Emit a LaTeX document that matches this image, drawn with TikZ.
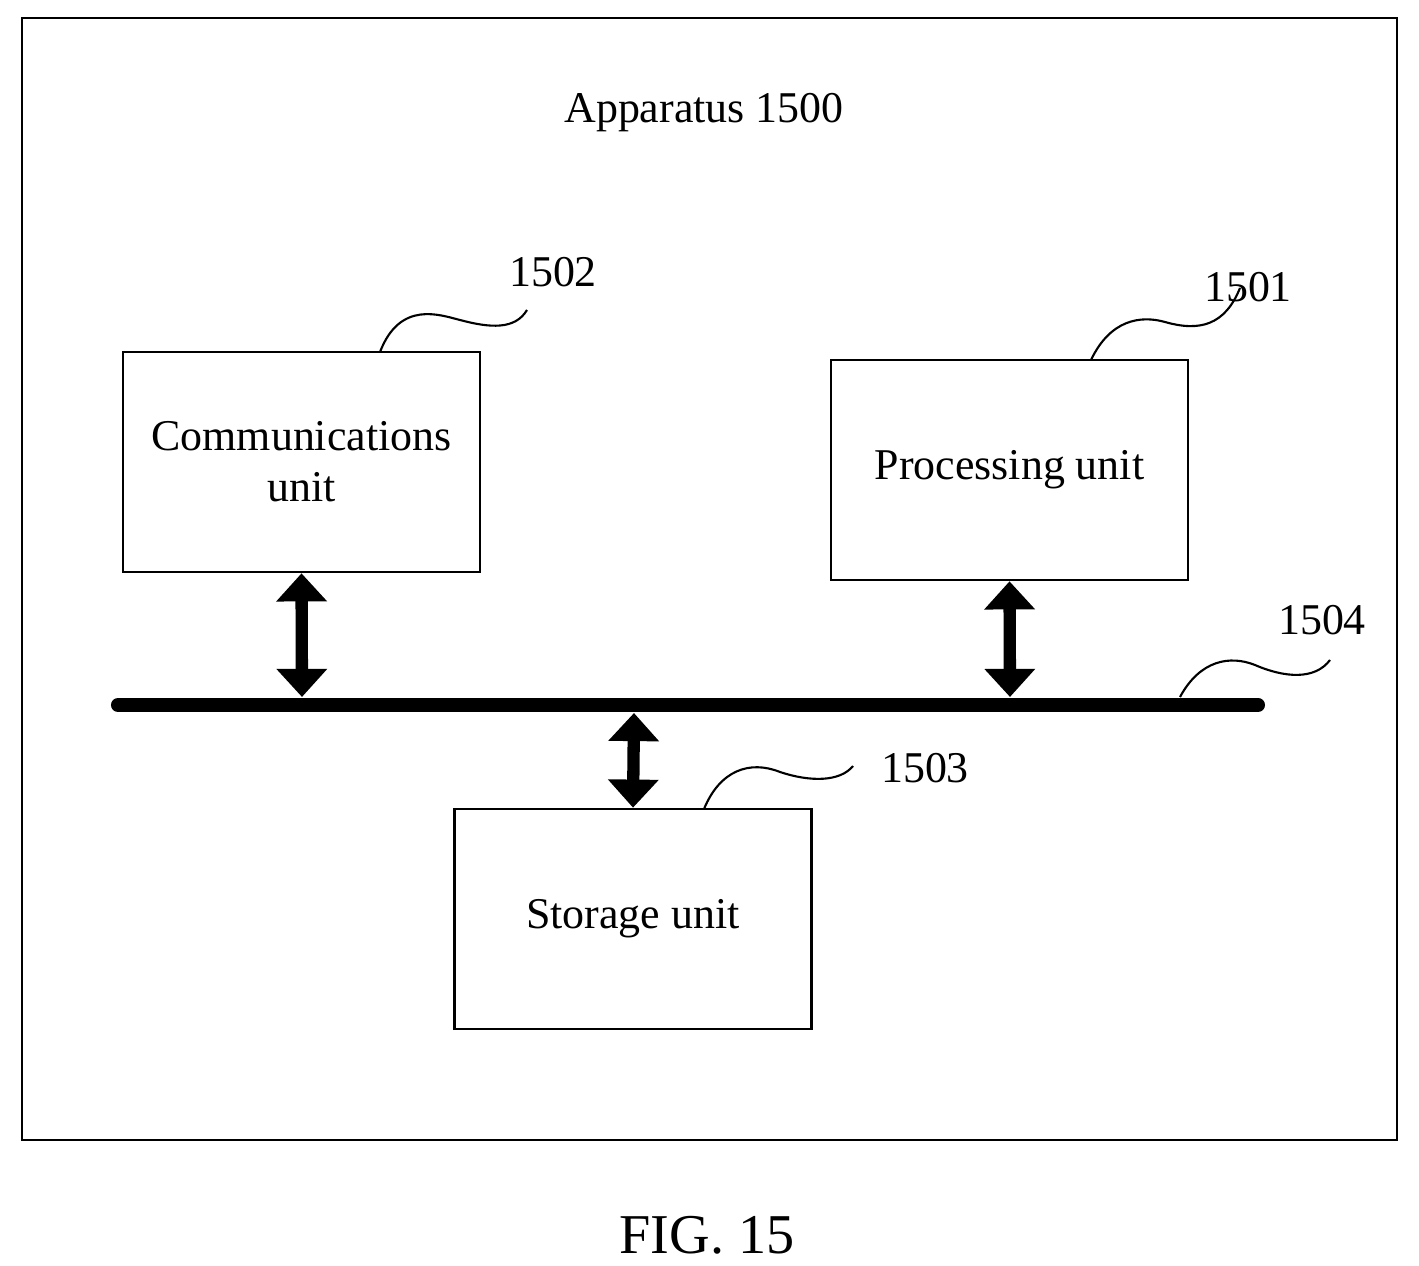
\documentclass[tikz,border=0pt]{standalone}
\usepackage{fontspec}
\setmainfont{Liberation Serif}
\usetikzlibrary{arrows.meta}
\begin{document}
\begin{tikzpicture}[x=0.02cm,y=-0.02cm,
 box/.style={draw,line width=1.5pt,minimum width=357*0.02cm,inner sep=0pt,font=\fontsize{25}{29}\selectfont,align=center},
 lbl/.style={font=\fontsize{25}{29}\selectfont},
 lead/.style={line width=1.2pt},
 dbl/.style={line width=7pt,{Triangle[length=16pt,width=28pt]}-{Triangle[length=16pt,width=28pt]}}]
\useasboundingbox (0,0) rectangle (1419,1266);
\draw[line width=1.5pt] (22,18) rectangle (1397,1140);
\node[lbl] (title) at (704,113) {Apparatus 1500};
\node[box,minimum height=220*0.02cm] (comm) at (301.5,462) {Communications\\unit};
\node[box,minimum height=220*0.02cm] (proc) at (1009.5,470) {Processing unit};
\node[box,minimum height=220*0.02cm] (stor) at (633,919) {Storage unit};
\coordinate (b1) at (118,705); \coordinate (b2) at (1258,705);
\draw[line width=8pt,line cap=round] (b1) -- (b2);
\coordinate (c1) at (302,697); \coordinate (c2) at (1010,697); \coordinate (c3) at (634,713);
\draw[dbl] (comm.south) -- (c1);
\draw[dbl] (proc.south) -- (c2);
\draw[dbl] (stor.north) -- (c3);
\node[lbl] (n1502) at (553,272) {1502};
\node[lbl] (n1501) at (1248,287) {1501};
\node[lbl] (n1504) at (1322,620) {1504};
\node[lbl] (n1503) at (925,768) {1503};
\coordinate (l1) at (380,352); \coordinate (e1) at (527,310);
\draw[lead] (l1) .. controls (400,300) and (440,315) .. (460,320) .. controls (490,328) and (515,330) .. (e1);
\coordinate (l2) at (1091,360); \coordinate (e2) at (1240,288);
\draw[lead] (l2) .. controls (1110,320) and (1140,315) .. (1165,322) .. controls (1200,332) and (1225,325) .. (e2);
\coordinate (l3) at (1180,697); \coordinate (e3) at (1330,660);
\draw[lead] (l3) .. controls (1200,660) and (1230,655) .. (1255,665) .. controls (1285,678) and (1315,680) .. (e3);
\coordinate (l4) at (704,809); \coordinate (e4) at (853,766);
\draw[lead] (l4) .. controls (720,770) and (750,760) .. (780,772) .. controls (810,782) and (840,782) .. (e4);
\node[font=\fontsize{32}{36}\selectfont] (fig) at (707,1235) {FIG. 15};
\end{tikzpicture}
\end{document}
